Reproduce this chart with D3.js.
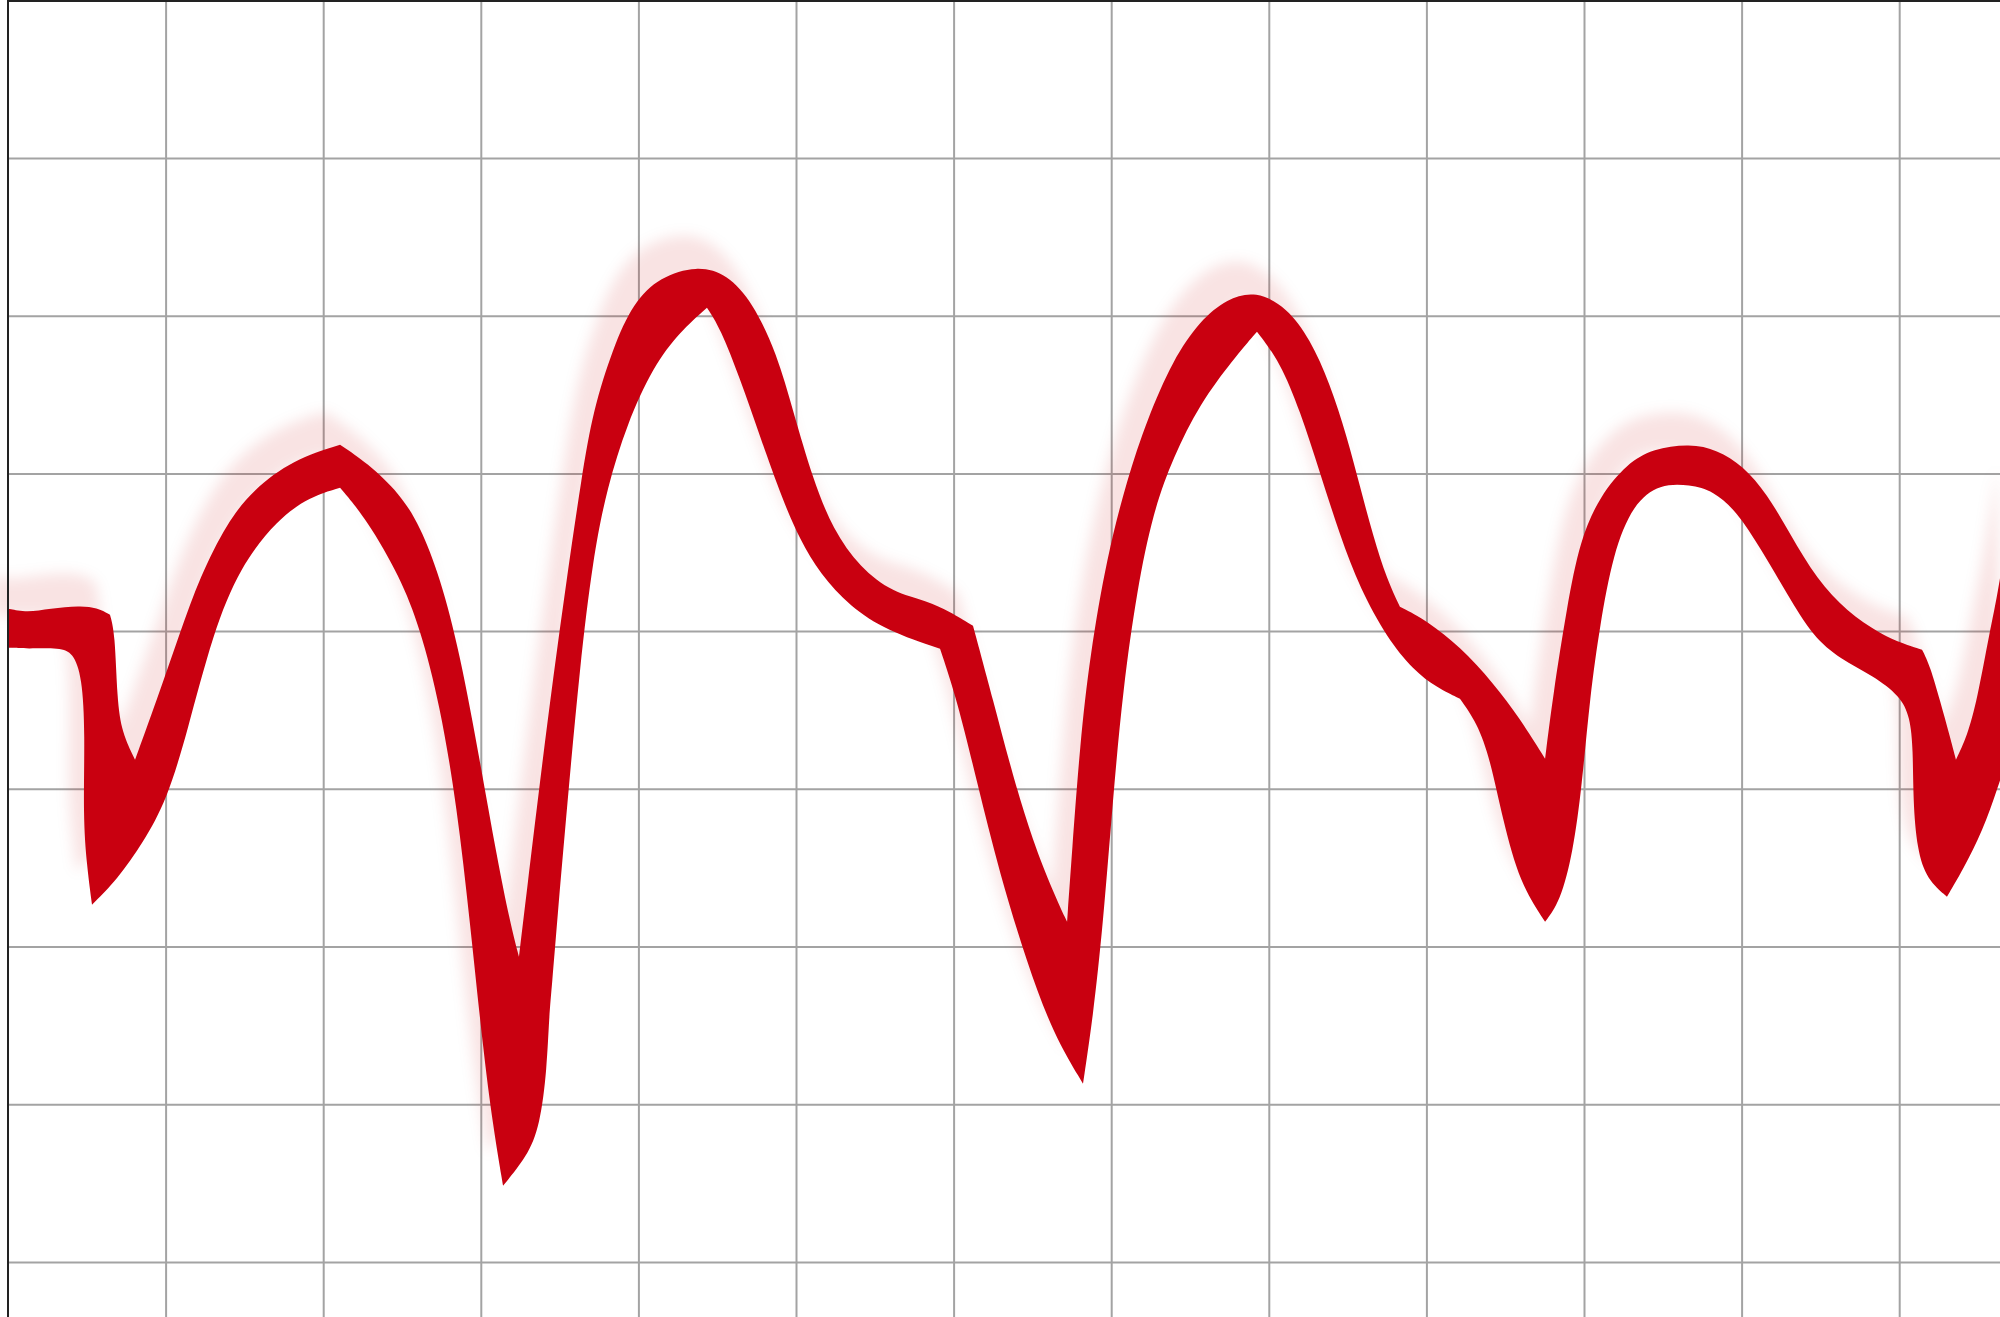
<!DOCTYPE html>
<html>
<head>
<meta charset="utf-8">
<script src="https://cdn.jsdelivr.net/npm/d3@7"></script>
<style>
  html, body { margin: 0; padding: 0; background: #ffffff; }
  svg { display: block; }
</style>
</head>
<body>
<svg id="chart" width="2000" height="1317"></svg>
<script>
// ---------- data ----------
const xTicks = [0, 10, 20, 30, 40, 50, 60, 70, 80, 90, 100, 110, 120];
const yTicks = [0, 10, 20, 30, 40, 50, 60, 70, 80];

// upper boundary of the band
const upperX = [0, 1.21, 2.66, 4.57, 5.65, 6.47, 6.79, 6.92, 7.23, 8.06,
  9.45, 10.91, 12.18, 13.90, 15.55, 18.08, 21.07, 22.78, 24.87, 26.14,
  27.41, 28.68, 29.95, 31.03, 31.85, 32.42, 32.93, 33.76, 34.58, 35.47,
  36.42, 37.12, 38.39, 39.66, 41.37, 43.72, 45.62, 47.27, 48.79, 49.81,
  51.08, 52.35, 54.06, 56.15, 58.31, 59.77, 61.23, 62.50, 63.77, 65.04,
  66.31, 67.20, 67.51, 68.02, 68.65, 69.73, 71.00, 72.27, 73.92, 75.63,
  77.35, 79.19, 81.15, 82.61, 83.88, 84.96, 85.79, 86.61, 87.50, 88.32,
  90.04, 92.13, 94.23, 95.94, 97.53, 98.03, 98.92, 99.75, 101.02, 102.73,
  104.38, 106.73, 108.44, 110.09, 111.61, 113.07, 114.78, 116.69, 118.78, 120.24,
  121.45, 121.95, 122.59, 123.22, 123.60, 124.30, 124.94, 125.76, 126.27, 127.16];
const upperY = [41.42, 41.17, 41.42, 41.61, 41.48, 41.04, 39.90, 35.65, 33.56, 31.85,
  35.65, 39.90, 43.45, 46.87, 48.97, 50.87, 51.82, 50.68, 48.71, 46.68,
  43.45, 38.57, 31.72, 25.63, 21.57, 19.35, 23.60, 30.51, 36.98, 43.45,
  49.92, 53.98, 57.97, 60.82, 62.47, 63.17, 62.66, 60.82, 57.59, 53.98,
  49.60, 46.43, 44.02, 42.44, 41.93, 41.23, 40.34, 35.65, 30.77, 26.65,
  23.47, 21.57, 25.95, 32.86, 38.44, 44.72, 49.60, 53.41, 57.21, 59.68,
  61.08, 61.59, 60.51, 58.54, 55.69, 52.33, 49.16, 46.05, 43.26, 41.55,
  40.66, 39.01, 36.73, 34.45, 31.91, 35.90, 41.55, 45.80, 48.59, 50.62,
  51.57, 51.88, 51.50, 50.49, 48.71, 46.18, 43.26, 41.23, 39.84, 39.20,
  38.82, 37.81, 35.59, 33.30, 31.85, 33.30, 35.59, 40.09, 42.37, 48.33];
const upperCorners = [5, 9, 16, 25, 46, 51, 69, 74, 90, 94];

// lower boundary of the band
const lowerX = [0, 1.21, 3.30, 4.12, 4.70, 4.89, 4.76, 5.01, 5.33, 6.92,
  8.57, 10.09, 11.36, 13.01, 14.72, 17.07, 19.16, 21.07, 22.78, 24.87,
  26.14, 27.41, 28.49, 29.31, 30.14, 30.77, 31.41, 32.93, 33.76, 34.20,
  34.33, 34.52, 34.84, 35.47, 36.29, 37.12, 38.01, 39.28, 40.93, 42.64,
  44.35, 45.18, 46.45, 47.72, 49.17, 50.25, 51.52, 53.43, 55.77, 59.14,
  60.22, 61.48, 62.94, 64.66, 66.31, 68.21, 68.84, 69.48, 70.11, 70.75,
  71.64, 72.65, 73.92, 75.63, 77.73, 79.25, 80.71, 81.98, 83.25, 84.52,
  85.79, 87.50, 89.15, 90.67, 92.13, 93.21, 94.04, 94.86, 95.94, 97.53,
  98.48, 99.30, 99.87, 100.38, 101.02, 101.84, 103.11, 104.82, 106.73, 108.19,
  109.71, 111.17, 112.88, 114.53, 116.24, 118.34, 120.05, 120.69, 120.88, 120.88,
  121.13, 121.76, 123.03, 124.05, 125.32, 126.21, 127.35];
const lowerY = [38.95, 38.88, 38.95, 38.63, 37.11, 33.56, 28.23, 25.06, 22.65, 24.24,
  26.58, 29.31, 33.56, 39.90, 44.08, 47.06, 48.52, 49.09, 47.06, 43.45,
  40.22, 35.33, 28.86, 21.57, 13.52, 8.64, 4.83, 6.67, 8.64, 12.31,
  15.55, 17.58, 21.57, 28.86, 37.81, 44.65, 49.09, 53.15, 56.77, 58.99,
  60.51, 59.24, 56.01, 52.33, 48.27, 45.80, 43.64, 41.55, 40.03, 38.88,
  35.65, 30.45, 24.55, 18.97, 14.47, 11.30, 15.49, 21.38, 29.37, 36.35,
  42.63, 47.51, 51.00, 54.42, 57.21, 58.99, 57.08, 53.98, 50.04, 46.05,
  42.69, 39.58, 37.55, 36.41, 35.71, 34.19, 31.91, 27.98, 23.98, 21.57,
  22.84, 25.95, 30.20, 35.90, 40.41, 44.91, 48.08, 49.35, 49.28, 48.90,
  47.57, 45.29, 42.37, 39.64, 38.25, 37.17, 35.90, 34.57, 32.48, 29.31,
  26.14, 24.24, 23.16, 24.87, 27.41, 29.94, 33.43];
const lowerCorners = [8, 17, 26, 40, 49, 55, 65, 74, 79, 102];

// ---------- layout ----------
const W = 2000, H = 1317;
const plotLeft = 8, plotTop = 0.3, stepX = 15.76, stepY = 15.77;
const svg = d3.select('#chart');

const x = d3.scaleLinear().domain([0, 120]).range([plotLeft, plotLeft + 120 * stepX]);
const y = d3.scaleLinear().domain([0, 80]).range([plotTop + 80 * stepY, plotTop]);

// ---------- grid ----------
const grid = svg.append('g');
grid.append('g')
  .call(d3.axisTop(x).tickValues(xTicks.slice(1)).tickSize(-H).tickFormat(''))
  .call(g => g.select('.domain').remove())
  .call(g => g.selectAll('line').attr('stroke', '#a3a3a3').attr('stroke-width', 2));
grid.append('g')
  .attr('transform', `translate(${plotLeft},0)`)
  .call(d3.axisLeft(y).tickValues(yTicks.slice(0, -1)).tickSize(-(W - plotLeft)).tickFormat(''))
  .call(g => g.select('.domain').remove())
  .call(g => g.selectAll('line').attr('stroke', '#a3a3a3').attr('stroke-width', 2));

// ---------- band path ----------
const upper = upperX.map((v, i) => [v, upperY[i]]);
const lower = lowerX.map((v, i) => [v, lowerY[i]]);

const line = d3.line().x(d => x(d[0])).y(d => y(d[1])).curve(d3.curveBasis);

function pieces(pts, corners) {
  const cs = new Set(corners);
  const segs = [];
  let cur = [pts[0]];
  for (let i = 1; i < pts.length; i++) {
    cur.push(pts[i]);
    if (cs.has(i)) { segs.push(cur); cur = [pts[i]]; }
  }
  if (cur.length > 1) segs.push(cur);
  return segs.map(s => 'L' + line(s).slice(1)).join('');
}
const n = lower.length;
const lowerRev = lower.slice().reverse();
const lowerRevCorners = lowerCorners.map(i => n - 1 - i);
let pathD = pieces(upper, upperCorners) + pieces(lowerRev, lowerRevCorners) + 'Z';
pathD = 'M' + pathD.slice(1);

const defs = svg.append('defs');
const f = defs.append('filter').attr('id', 'blur')
  .attr('filterUnits', 'userSpaceOnUse')
  .attr('x', -100).attr('y', -100).attr('width', W + 200).attr('height', H + 200);
f.append('feGaussianBlur').attr('stdDeviation', 7);

// shadow
svg.append('path')
  .attr('d', pathD)
  .attr('transform', 'translate(-15,-33)')
  .attr('fill', '#cc0011')
  .attr('fill-opacity', 0.11)
  .attr('filter', 'url(#blur)');

// band
svg.append('path')
  .attr('d', pathD)
  .attr('fill', '#c90010');

// ---------- frame ----------
svg.append('line')
  .attr('x1', plotLeft).attr('x2', plotLeft).attr('y1', 0).attr('y2', H)
  .attr('stroke', '#222').attr('stroke-width', 2);
svg.append('line')
  .attr('x1', plotLeft).attr('x2', W).attr('y1', 1).attr('y2', 1)
  .attr('stroke', '#222').attr('stroke-width', 2);
</script>
</body>
</html>
